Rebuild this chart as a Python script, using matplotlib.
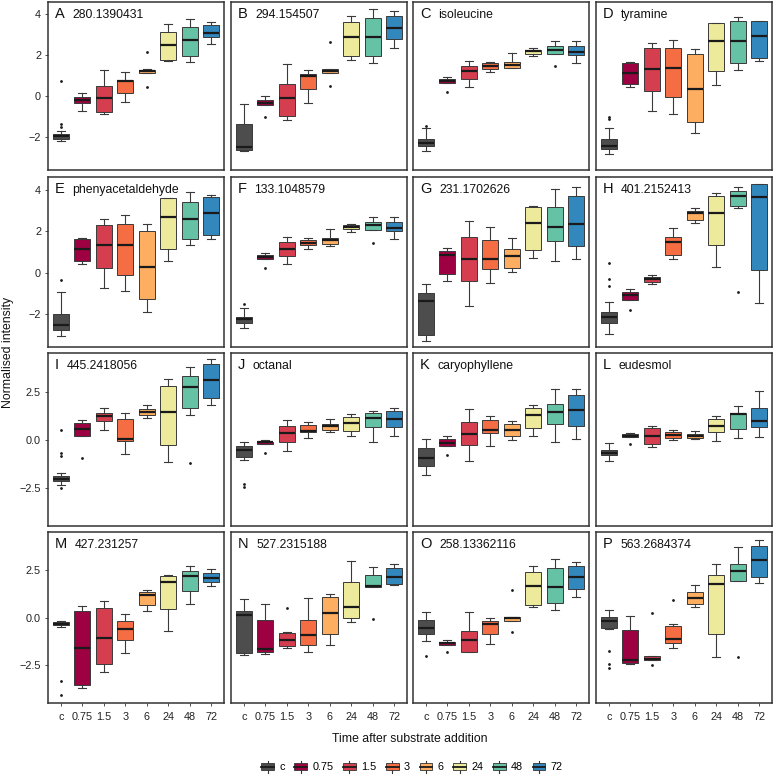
import matplotlib
matplotlib.use("Agg")
import matplotlib.pyplot as plt
from matplotlib.patches import Patch, Rectangle
from matplotlib.lines import Line2D
from matplotlib.legend_handler import HandlerBase

plt.rcParams['font.family'] = ['Liberation Sans', 'DejaVu Sans']

# ========== data ==========
groups = ['c', '0.75', '1.5', '3', '6', '24', '48', '72']
colors = ['#4D4D4D', '#9E0142', '#D53E4F', '#F46D43', '#FDAE61', '#EEEA9B', '#66C2A5', '#3288BD']

letters = list('ABCDEFGHIJKLMNOP')
names = ['280.1390431', '294.154507', 'isoleucine', 'tyramine',
         'phenyacetaldehyde', '133.1048579', '231.1702626', '401.2152413',
         '445.2418056', 'octanal', 'caryophyllene', 'eudesmol',
         '427.231257', '527.2315188', '258.13362116', '563.2684374']

q1 = [
    [-2.09, -0.35, -0.80, 0.13, 1.12, 1.77, 1.97, 2.89],
    [-2.65, -0.43, -0.95, 0.34, 1.12, 1.94, 1.96, 2.76],
    [-2.44, 0.66, 0.83, 1.33, 1.36, 2.05, 2.05, 1.99],
    [-2.58, 0.58, 0.27, -0.06, -1.24, 1.22, 1.62, 1.85],
    [-2.76, 0.57, 0.24, -0.13, -1.29, 1.16, 1.62, 1.83],
    [-2.46, 0.64, 0.82, 1.32, 1.39, 2.10, 2.06, 1.99],
    [-3.00, -0.08, -0.39, 0.18, 0.24, 1.08, 1.53, 1.27],
    [-2.46, -1.31, -0.46, 0.86, 2.56, 1.34, 3.20, 0.11],
    [-2.15, 0.21, 0.99, -0.05, 1.30, -0.29, 1.63, 2.18],
    [-0.87, -0.21, -0.09, 0.42, 0.50, 0.45, 0.67, 0.66],
    [-1.37, -0.33, -0.29, 0.33, 0.19, 0.62, 0.81, 0.74],
    [-0.80, 0.14, -0.22, 0.07, 0.10, 0.38, 0.54, 0.66],
    [-0.40, -3.51, -2.45, -1.18, 0.66, 0.47, 1.41, 1.88],
    [-1.84, -1.79, -1.49, -1.42, -0.85, -0.02, 1.63, 1.77],
    [-0.85, -1.41, -1.77, -0.87, -0.16, 0.69, 0.75, 1.53],
    [-0.52, -2.36, -2.19, -1.32, 0.73, -0.87, 1.93, 2.14],
]
medians = [
    [-1.96, -0.19, -0.11, 0.74, 1.20, 2.49, 2.73, 3.08],
    [-2.47, -0.32, -0.08, 1.00, 1.24, 2.89, 2.86, 3.31],
    [-2.28, 0.75, 1.20, 1.48, 1.52, 2.17, 2.25, 2.13],
    [-2.41, 1.12, 1.30, 1.36, 0.32, 2.66, 2.66, 2.94],
    [-2.54, 1.13, 1.34, 1.34, 0.28, 2.68, 2.59, 2.90],
    [-2.27, 0.73, 1.16, 1.45, 1.57, 2.22, 2.28, 2.14],
    [-1.37, 0.83, 0.64, 0.67, 0.80, 2.41, 2.22, 2.35],
    [-2.14, -1.09, -0.33, 1.48, 2.89, 2.87, 3.69, 3.67],
    [-2.01, 0.55, 1.23, 0.05, 1.45, 1.42, 2.73, 3.11],
    [-0.54, -0.14, 0.33, 0.48, 0.69, 0.87, 1.12, 1.07],
    [-0.97, -0.17, 0.29, 0.52, 0.50, 1.26, 1.44, 1.54],
    [-0.67, 0.22, 0.22, 0.24, 0.21, 0.73, 1.33, 1.00],
    [-0.31, -1.61, -1.06, -0.57, 1.20, 1.88, 2.17, 2.10],
    [0.17, -1.63, -1.18, -0.90, 0.26, 0.59, 1.68, 2.12],
    [-0.54, -1.34, -1.16, -0.30, -0.03, 1.67, 1.63, 2.12],
    [-0.17, -2.24, -2.14, -1.09, 1.06, 1.79, 2.48, 3.04],
]
q3 = [
    [-1.85, -0.06, 0.48, 0.80, 1.28, 3.10, 3.35, 3.47],
    [-1.36, -0.18, 0.58, 1.09, 1.30, 3.61, 3.79, 3.92],
    [-2.09, 0.83, 1.46, 1.62, 1.67, 2.26, 2.46, 2.44],
    [-2.09, 1.59, 2.33, 2.36, 2.05, 3.55, 3.66, 3.66],
    [-2.02, 1.62, 2.32, 2.35, 2.00, 3.61, 3.39, 3.67],
    [-2.14, 0.85, 1.47, 1.58, 1.68, 2.30, 2.43, 2.43],
    [-1.00, 1.03, 1.73, 1.58, 1.14, 3.15, 3.16, 3.70],
    [-1.91, -0.95, -0.23, 1.73, 2.99, 3.69, 3.96, 4.26],
    [-1.89, 0.87, 1.40, 1.09, 1.61, 2.79, 3.32, 3.94],
    [-0.33, -0.09, 0.71, 0.78, 0.83, 1.18, 1.37, 1.49],
    [-0.42, 0.02, 0.92, 1.02, 0.83, 1.63, 1.83, 2.32],
    [-0.55, 0.29, 0.59, 0.40, 0.31, 1.07, 1.40, 1.63],
    [-0.24, 0.38, 0.49, -0.17, 1.35, 2.19, 2.45, 2.34],
    [0.36, -0.10, -0.80, -0.09, 1.11, 1.86, 2.24, 2.60],
    [-0.09, -1.27, -0.68, -0.17, 0.05, 2.41, 2.62, 2.74],
    [0.02, -0.64, -2.03, -0.45, 1.35, 2.26, 2.80, 3.77],
]
whisk_lo = [
    [-2.20, -0.74, -0.88, -0.30, 1.10, 1.69, 1.65, 2.54],
    [-2.68, -0.43, -1.16, -0.34, 1.10, 1.77, 1.62, 2.34],
    [-2.68, 0.66, 0.42, 1.16, 1.36, 1.94, 2.05, 1.61],
    [-2.84, 0.42, -0.75, -0.88, -1.78, 0.56, 1.28, 1.69],
    [-3.05, 0.42, -0.75, -0.91, -1.89, 0.55, 1.31, 1.62],
    [-2.66, 0.64, 0.42, 1.14, 1.29, 1.96, 2.06, 1.62],
    [-3.31, -0.39, -1.62, -0.52, 0.02, 0.72, 0.55, 0.67],
    [-2.95, -1.31, -0.54, 0.64, 2.38, 0.28, 3.13, -1.45],
    [-2.34, 0.21, 0.50, -0.74, 1.14, -1.14, 1.28, 1.80],
    [-1.06, -0.21, -0.59, 0.07, 0.40, 0.22, -0.10, 0.21],
    [-1.83, -0.33, -1.09, -0.33, -0.02, 0.21, -0.14, 0.03],
    [-1.12, 0.14, -0.35, -0.02, 0.02, -0.05, 0.09, 0.14],
    [-0.47, -3.66, -2.83, -1.86, 0.38, -0.71, 0.71, 1.68],
    [-1.93, -1.89, -1.61, -1.77, -1.41, -0.21, 1.63, 1.74],
    [-1.20, -1.41, -1.82, -1.35, -0.16, 0.56, 0.40, 1.09],
    [-0.57, -2.45, -2.19, -1.56, 0.56, -2.08, 1.93, 1.81],
]
whisk_hi = [
    [-1.69, 0.13, 1.25, 1.16, 1.30, 3.50, 3.77, 3.63],
    [-0.39, 0.02, 1.57, 1.27, 1.32, 3.90, 4.24, 4.14],
    [-1.56, 0.95, 1.73, 1.67, 2.10, 2.34, 2.68, 2.68],
    [-1.56, 1.67, 2.60, 2.73, 2.31, 3.58, 3.87, 3.66],
    [-0.96, 1.68, 2.59, 2.76, 2.33, 3.61, 3.88, 3.77],
    [-1.73, 0.96, 1.73, 1.66, 2.10, 2.33, 2.71, 2.68],
    [-0.57, 1.17, 2.48, 2.19, 1.68, 3.21, 4.03, 4.16],
    [-1.40, -0.78, -0.11, 2.14, 3.10, 3.83, 4.16, 4.29],
    [-1.70, 1.04, 1.63, 1.38, 1.82, 3.15, 3.79, 4.17],
    [-0.12, -0.02, 1.04, 0.92, 1.09, 1.33, 1.49, 1.66],
    [0.02, 0.19, 1.59, 1.21, 0.95, 1.80, 2.61, 2.63],
    [-0.19, 0.35, 0.74, 0.50, 0.43, 1.21, 1.75, 2.54],
    [-0.16, 0.63, 0.89, 0.21, 1.44, 2.26, 2.71, 2.55],
    [0.99, 0.71, -0.76, 1.04, 1.25, 2.97, 2.69, 2.80],
    [0.30, -1.15, 0.31, 0.00, 0.05, 2.71, 3.06, 2.95],
    [0.40, 0.09, -2.03, -0.31, 1.70, 2.83, 3.70, 4.06],
]
outliers = [
    [[-1.35, -1.52, 0.72], [], [], [], [2.13, 0.42], [], [], []],
    [[], [-1.04], [], [], [2.63, 0.50], [], [], []],
    [[-1.44], [0.21], [], [], [], [], [1.46], []],
    [[-1.00, -1.12], [], [], [], [], [], [], []],
    [[-0.38], [], [], [], [], [], [], []],
    [[-1.52], [0.20], [], [], [], [], [1.42], []],
    [[], [], [], [], [], [], [], []],
    [[-0.67, -0.31, 0.44], [-1.81], [], [], [], [], [-0.96], []],
    [[-2.49, -0.71, -0.85, 0.50], [-0.95], [], [], [], [], [-1.19], []],
    [[-2.30, -2.47], [-0.67], [], [], [], [], [], []],
    [[], [-0.81], [], [], [], [], [], []],
    [[], [-0.22], [], [], [], [], [], []],
    [[-3.32, -4.06], [], [], [], [], [], [], []],
    [[], [], [0.49], [], [], [], [-0.07], []],
    [[-2.01], [-1.77], [], [], [1.46, -0.73], [], [], []],
    [[-1.74, -2.42, -2.66], [], [0.23, -2.47], [0.92], [], [], [-2.07], []],
]

# y axis per row
row_ylim = [(-3.6, 4.58), (-3.6, 4.62), (-4.47, 4.5), (-4.47, 4.5)]
row_yticks = [[-2, 0, 2, 4], [-2, 0, 2, 4], [-2.5, 0, 2.5], [-2.5, 0, 2.5]]
row_ylabels = [['\u22122', '0', '2', '4'], ['\u22122', '0', '2', '4'],
               ['\u22122.5', '0.0', '2.5'], ['\u22122.5', '0.0', '2.5']]


class BoxKey(HandlerBase):
    def create_artists(self, legend, orig_handle, xdescent, ydescent,
                       width, height, fontsize, trans):
        fc = orig_handle.get_facecolor()
        x0, y0 = -xdescent, -ydescent
        cx = x0 + width / 2
        w = Line2D([cx, cx], [y0 - 0.1 * height, y0 + 1.1 * height], color='#333333', lw=0.8)
        b = Rectangle((x0, y0 + 0.15 * height), width, 0.7 * height,
                      facecolor=fc, edgecolor='#333333', lw=0.6)
        m = Line2D([x0, x0 + width], [y0 + 0.5 * height] * 2, color='#1a1a1a', lw=1.3)
        for a in (w, b, m):
            a.set_transform(trans)
        return [w, b, m]


W, H = 773, 774
fig = plt.figure(figsize=(W / 100, H / 100), dpi=100)

col_l = [48, 231, 413, 596]
col_r = [224, 407, 589, 772]
row_t = [2, 177, 353, 532]
row_b = [170, 347, 526, 703]

pos = list(range(1, len(groups) + 1))

for i in range(16):
    r, c = divmod(i, 4)
    ax = fig.add_axes([col_l[c] / W, 1 - row_b[r] / H,
                       (col_r[c] - col_l[c]) / W, (row_b[r] - row_t[r]) / H])
    stats = []
    for j in range(len(groups)):
        stats.append(dict(med=medians[i][j], q1=q1[i][j], q3=q3[i][j],
                          whislo=whisk_lo[i][j], whishi=whisk_hi[i][j],
                          fliers=outliers[i][j]))
    res = ax.bxp(stats, positions=pos, widths=0.75, capwidths=0.38,
                 patch_artist=True,
                 boxprops=dict(edgecolor='#3a3a3a', linewidth=0.7),
                 medianprops=dict(color='#1a1a1a', linewidth=1.6),
                 whiskerprops=dict(color='#3a3a3a', linewidth=0.8),
                 capprops=dict(color='#3a3a3a', linewidth=0.8),
                 flierprops=dict(marker='o', markersize=2.0, markerfacecolor='#1a1a1a',
                                 markeredgecolor='none'))
    for patch, col in zip(res['boxes'], colors):
        patch.set_facecolor(col)

    ax.set_xlim(0.4, 8.6)
    ax.set_ylim(*row_ylim[r])
    ax.set_xticks(pos)
    ax.set_yticks(row_yticks[r])
    ax.set_yticklabels(row_ylabels[r])
    ax.set_xticklabels(groups)
    ax.tick_params(length=2.5, width=0.6, color='#333333', labelsize=7.8,
                   labelcolor='#222222')
    ax.tick_params(axis='x', pad=4)
    ax.tick_params(axis='y', pad=2.5)
    if r < 3:
        ax.tick_params(axis='x', bottom=False, labelbottom=False)
    if c > 0:
        ax.tick_params(axis='y', left=False, labelleft=False)
    for sp in ax.spines.values():
        sp.set_linewidth(1.1)
        sp.set_color('#333333')

    let = ax.annotate(letters[i], xy=(0, 1), xycoords='axes fraction',
                      xytext=(5, -11.8), textcoords='offset points',
                      fontsize=10.5, va='baseline', ha='left', color='#111111')
    ax.annotate(names[i], xy=(1, 0), xycoords=let, xytext=(5.5, 0),
                textcoords='offset points', fontsize=8.8, va='bottom', ha='left',
                color='#111111')

fig.text(8 / W, 1 - 352 / H, 'Normalised intensity', rotation=90,
         ha='center', va='center', fontsize=8.8, color='#111111')
fig.text(410 / W, 1 - 739 / H, 'Time after substrate addition',
         ha='center', va='center', fontsize=8.8, color='#111111')

handles = [Patch(facecolor=col, label=g) for g, col in zip(groups, colors)]
fig.legend(handles=handles, handler_map={Patch: BoxKey()}, loc='center',
           bbox_to_anchor=(412 / W, 1 - 767 / H), ncol=8, frameon=False,
           fontsize=7.8, handlelength=1.15, handleheight=1.1,
           handletextpad=0.5, columnspacing=0.9)

fig.savefig('out.png', dpi=100)
